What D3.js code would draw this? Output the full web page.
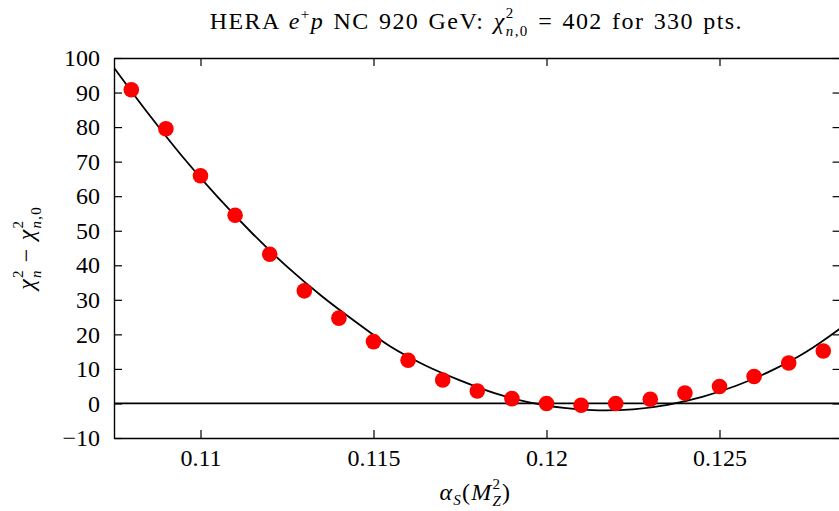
<!DOCTYPE html>
<html><head><meta charset="utf-8">
<script src="https://cdn.jsdelivr.net/npm/d3@7"></script>
<style>
body{margin:0;background:#fff;}
text{font-family:"Liberation Serif","Times New Roman",serif;fill:#000;}
</style></head>
<body><svg id="c" width="839" height="511"></svg>
<script>
// data points
const alphaS = [0.108,0.109,0.110,0.111,0.112,0.113,0.114,0.115,0.116,0.117,0.118,0.119,0.120,0.121,0.122,0.123,0.124,0.125,0.126,0.127,0.128];
const deltaChi2 = [90.8,79.5,65.9,54.5,43.2,32.6,24.7,17.9,12.5,6.8,3.6,1.4,0.0,-0.5,0.0,1.2,3.0,4.9,7.8,11.7,15.2];
// fitted curve samples
const curveX = [0.1075,0.1085,0.1095,0.1105,0.1115,0.1125,0.1135,0.1145,0.1155,0.1165,0.1175,0.1185,0.1195,0.1205,0.1215,0.1225,0.1235,0.1245,0.1255,0.1265,0.1275,0.1285];
const curveY = [97.2,83.8,71.2,59.7,49.2,39.6,31.1,23.5,16.4,11.0,6.7,3.0,0.3,-1.3,-2.0,-1.7,-0.4,1.9,5.2,9.5,14.9,21.8];
const xTicks = [0.11,0.115,0.12,0.125];
const xTickLabels = ["0.11","0.115","0.12","0.125"];
const yTicks = [-10,0,10,20,30,40,50,60,70,80,90,100];

const svg = d3.select("#c");
const L=114, R=840.6, T=58, B=438;
const x = d3.scaleLinear().domain([0.1075,0.1285]).range([L,R]);
const y = d3.scaleLinear().domain([-10,100]).range([B,T]);
const FS = 24, SS = 15;

function styleAxis(g){
  g.selectAll("path.domain").attr("stroke","#000").attr("stroke-width",1.4);
  g.selectAll(".tick line").attr("stroke","#000").attr("stroke-width",1.2);
  g.selectAll("text").attr("font-size",FS).attr("font-family","Liberation Serif, serif").attr("fill","#000");
}
svg.append("g").attr("transform",`translate(0,${B})`)
  .call(d3.axisBottom(x).tickValues(xTicks).tickFormat((d,i)=>xTickLabels[i]).tickSizeInner(-8).tickSizeOuter(0).tickPadding(11))
  .call(styleAxis);
svg.append("g").attr("transform",`translate(0,${T})`)
  .call(d3.axisTop(x).tickValues(xTicks).tickFormat("").tickSizeInner(-8).tickSizeOuter(0))
  .call(styleAxis);
svg.append("g").attr("transform",`translate(${L},0)`)
  .call(d3.axisLeft(y).tickValues(yTicks).tickFormat(d3.format("d")).tickSizeInner(-8).tickSizeOuter(0).tickPadding(14))
  .call(styleAxis);
svg.append("g").attr("transform",`translate(${R},0)`)
  .call(d3.axisRight(y).tickValues(yTicks).tickFormat("").tickSizeInner(-8).tickSizeOuter(0))
  .call(styleAxis);

// zero line
svg.append("line").attr("x1",L).attr("x2",R).attr("y1",y(0)).attr("y2",y(0))
  .attr("stroke","#000").attr("stroke-width",1.8);

svg.append("clipPath").attr("id","pc").append("rect")
  .attr("x",L).attr("y",T).attr("width",R-L).attr("height",B-T);

// curve
const line = d3.line().x((d,i)=>x(curveX[i])).y(d=>y(d)).curve(d3.curveCatmullRom);
svg.append("path").attr("d",line(curveY)).attr("fill","none").attr("stroke","#000").attr("stroke-width",1.8).attr("clip-path","url(#pc)");

// points
svg.append("g").selectAll("circle").data(deltaChi2).join("circle")
  .attr("cx",(d,i)=>x(alphaS[i])).attr("cy",d=>y(d)).attr("r",7.8).attr("fill","#ff0000");

// title
const t = svg.append("text").attr("x",(L+R)/2 - 1).attr("y",29).attr("text-anchor","middle")
  .attr("font-size",FS).attr("letter-spacing",1.4).attr("word-spacing",2);
t.append("tspan").text("HERA ");
t.append("tspan").attr("font-style","italic").text("e");
t.append("tspan").attr("font-size",SS).attr("dy",-10).text("+");
t.append("tspan").attr("font-style","italic").attr("dy",10).text("p");
t.append("tspan").text(" NC 920 GeV: ");
t.append("tspan").attr("font-style","italic").text("χ");
t.append("tspan").attr("font-size",SS).attr("dy",-11).text("2");
t.append("tspan").attr("font-size",SS).attr("font-style","italic").attr("dx",-8.9).attr("dy",18).text("n");
t.append("tspan").attr("font-size",SS).text(",0");
t.append("tspan").attr("dy",-7).text(" = 402 for 330 pts.");

// y label
const yl = svg.append("text").attr("transform",`translate(34,${(T+B)/2}) rotate(-90)`).attr("text-anchor","middle")
  .attr("font-size",FS).attr("letter-spacing",1.2);
yl.append("tspan").attr("font-style","italic").text("χ");
yl.append("tspan").attr("font-size",SS).attr("dy",-11).text("2");
yl.append("tspan").attr("font-size",SS).attr("font-style","italic").attr("dx",-8.7).attr("dy",18).text("n");
yl.append("tspan").attr("dy",-7).text(" − ");
yl.append("tspan").attr("font-style","italic").text("χ");
yl.append("tspan").attr("font-size",SS).attr("dy",-11).text("2");
yl.append("tspan").attr("font-size",SS).attr("font-style","italic").attr("dx",-8.7).attr("dy",18).text("n");
yl.append("tspan").attr("font-size",SS).text(",0");

// x label
const xl = svg.append("text").attr("x",(L+R)/2 - 2).attr("y",500).attr("text-anchor","middle")
  .attr("font-size",FS).attr("letter-spacing",1.2);
xl.append("tspan").attr("font-style","italic").text("α");
xl.append("tspan").attr("font-size",SS).attr("font-style","italic").attr("dy",5).text("S");
xl.append("tspan").attr("dy",-5).text("(");
xl.append("tspan").attr("font-style","italic").text("M");
xl.append("tspan").attr("font-size",SS).attr("dy",-11).text("2");
xl.append("tspan").attr("font-size",SS).attr("font-style","italic").attr("dx",-8.7).attr("dy",17).text("Z");
xl.append("tspan").attr("dy",-6).text(")");
</script></body></html>
